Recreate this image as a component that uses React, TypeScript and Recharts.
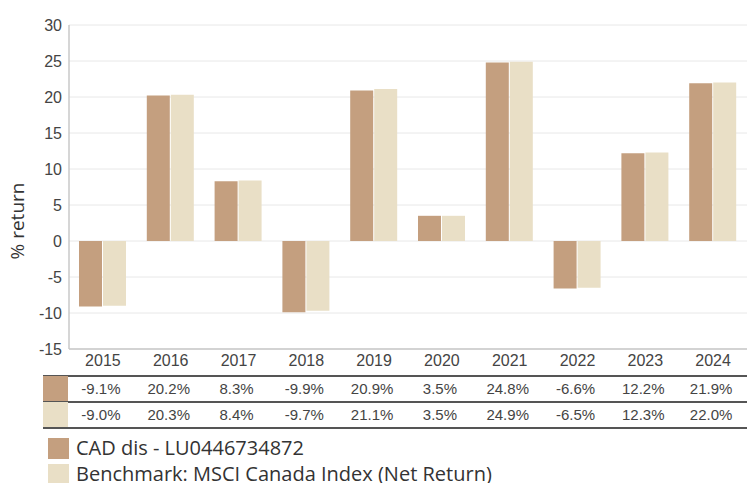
import { Bar, BarChart, CartesianGrid, XAxis, YAxis } from 'recharts'

const years = ['2015', '2016', '2017', '2018', '2019', '2020', '2021', '2022', '2023', '2024']
const fundReturns = [-9.1, 20.2, 8.3, -9.9, 20.9, 3.5, 24.8, -6.6, 12.2, 21.9]
const benchmarkReturns = [-9.0, 20.3, 8.4, -9.7, 21.1, 3.5, 24.9, -6.5, 12.3, 22.0]
const yTicks = [-15, -10, -5, 0, 5, 10, 15, 20, 25, 30]

const FUND_NAME = 'CAD dis - LU0446734872'
const BENCHMARK_NAME = 'Benchmark: MSCI Canada Index (Net Return)'

const FUND_COLOR = '#c49f7f'
const BENCHMARK_COLOR = '#e9dfc6'

const WIDTH = 747
const HEIGHT = 483
const PLOT_LEFT = 69
const COL_WIDTH = (WIDTH - PLOT_LEFT) / years.length

const chartData = years.map((year, i) => ({
  year,
  fund: fundReturns[i],
  benchmark: benchmarkReturns[i],
}))

const tickStyle = { fill: '#444', fontSize: 16, fontFamily: '"Liberation Sans", Arial, sans-serif' }
const uiFont = '"Open Sans", "Noto Sans", sans-serif'

function TableRow({ top, color, values }: { top: number; color: string; values: number[] }) {
  return (
    <div style={{ position: 'absolute', left: 43, top, width: WIDTH - 43, height: 26 }}>
      <div style={{ position: 'absolute', left: 0, top: 0, width: 25, height: 26, background: color }} />
      {values.map((v, i) => (
        <div
          key={years[i]}
          style={{
            position: 'absolute',
            left: PLOT_LEFT - 43 + i * COL_WIDTH - 2,
            top: 0,
            width: COL_WIDTH,
            height: 26,
            lineHeight: '26px',
            textAlign: 'center',
            fontSize: 15,
            color: '#444',
            fontFamily: '"Liberation Sans", Arial, sans-serif',
          }}
        >
          {v.toFixed(1)}%
        </div>
      ))}
    </div>
  )
}

export default function App() {
  return (
    <div style={{ position: 'absolute', left: 0, top: 0, width: WIDTH, height: HEIGHT, background: '#fff', overflow: 'hidden' }}>
      <BarChart
        width={WIDTH}
        height={375}
        data={chartData}
        margin={{ top: 25, right: 0, bottom: 0, left: 0 }}
        barGap={1}
        barSize={23}
      >
        <CartesianGrid vertical={false} stroke="#e8e8e8" />
        <XAxis
          dataKey="year"
          height={26}
          tickSize={0}
          tickMargin={6}
          tick={tickStyle}
          axisLine={{ stroke: '#c8c8c8', strokeWidth: 1.5 }}
          tickLine={false}
        />
        <YAxis
          width={PLOT_LEFT}
          domain={[-15, 30]}
          ticks={yTicks}
          interval={0}
          tickSize={0}
          tickMargin={7}
          tick={tickStyle}
          axisLine={{ stroke: '#c8c8c8', strokeWidth: 1.5 }}
          tickLine={false}
        />
        <Bar dataKey="fund" fill={FUND_COLOR} isAnimationActive={false} />
        <Bar dataKey="benchmark" fill={BENCHMARK_COLOR} isAnimationActive={false} />
      </BarChart>

      <div
        style={{
          position: 'absolute',
          left: 17,
          top: 221,
          transform: 'translate(-50%, -50%) rotate(-90deg)',
          fontFamily: uiFont,
          fontSize: 19,
          color: '#333',
          whiteSpace: 'nowrap',
        }}
      >
        % return
      </div>

      <div style={{ position: 'absolute', left: 43, top: 375, width: WIDTH - 43, height: 2, background: '#555' }} />
      <TableRow top={376} color={FUND_COLOR} values={fundReturns} />
      <div style={{ position: 'absolute', left: 43, top: 401, width: WIDTH - 43, height: 2, background: '#555' }} />
      <TableRow top={402} color={BENCHMARK_COLOR} values={benchmarkReturns} />
      <div style={{ position: 'absolute', left: 43, top: 427, width: WIDTH - 43, height: 2, background: '#555' }} />

      <div style={{ position: 'absolute', left: 48, top: 438, width: 21, height: 21, background: FUND_COLOR }} />
      <div style={{ position: 'absolute', left: 76, top: 435, fontFamily: uiFont, fontSize: 20, color: '#333', whiteSpace: 'nowrap', lineHeight: '26px' }}>
        {FUND_NAME}
      </div>
      <div style={{ position: 'absolute', left: 48, top: 464, width: 21, height: 21, background: BENCHMARK_COLOR }} />
      <div style={{ position: 'absolute', left: 76, top: 461, fontFamily: uiFont, fontSize: 20, color: '#333', whiteSpace: 'nowrap', lineHeight: '26px' }}>
        {BENCHMARK_NAME}
      </div>
    </div>
  )
}
